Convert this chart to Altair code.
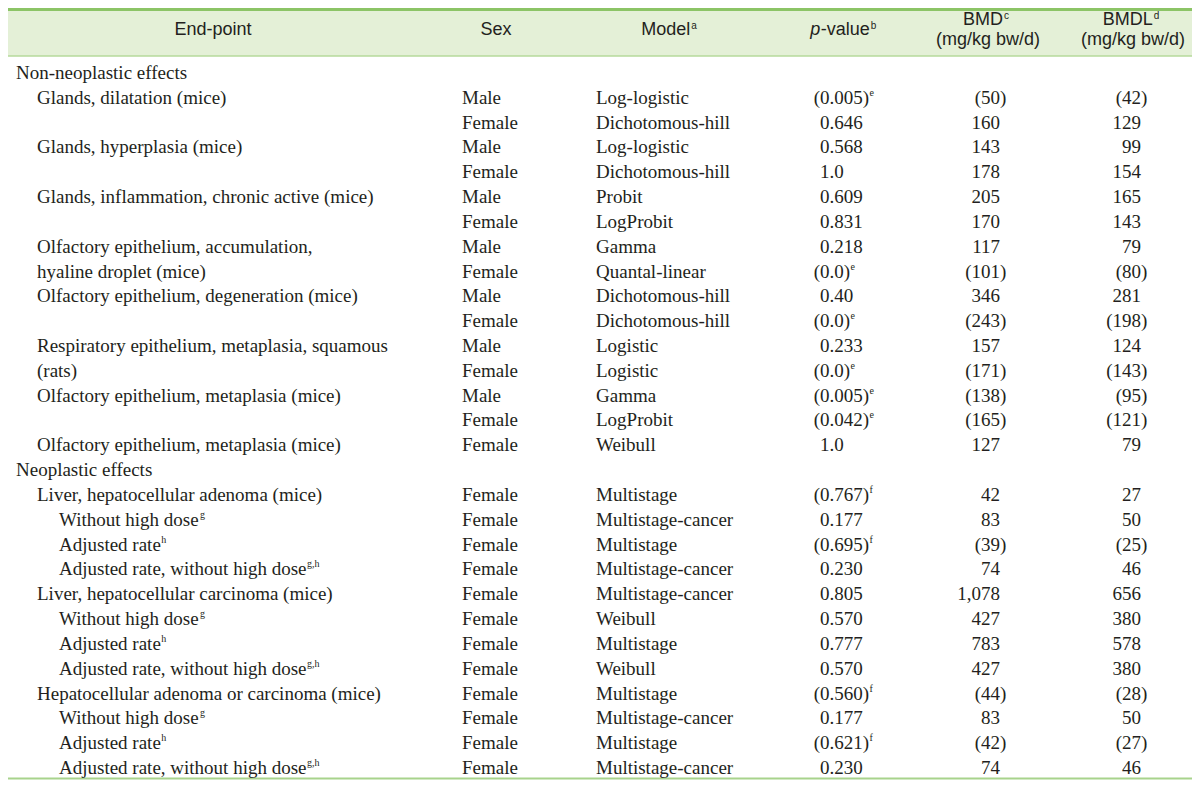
import altair as alt
import pandas as pd

# ---------------- data ----------------
endpoint = [
    "Non-neoplastic effects",
    "Glands, dilatation (mice)", "",
    "Glands, hyperplasia (mice)", "",
    "Glands, inflammation, chronic active (mice)", "",
    "Olfactory epithelium, accumulation,", "hyaline droplet (mice)",
    "Olfactory epithelium, degeneration (mice)", "",
    "Respiratory epithelium, metaplasia, squamous", "(rats)",
    "Olfactory epithelium, metaplasia (mice)", "",
    "Olfactory epithelium, metaplasia (mice)",
    "Neoplastic effects",
    "Liver, hepatocellular adenoma (mice)", "Without high dose", "Adjusted rate",
    "Adjusted rate, without high dose",
    "Liver, hepatocellular carcinoma (mice)", "Without high dose", "Adjusted rate",
    "Adjusted rate, without high dose",
    "Hepatocellular adenoma or carcinoma (mice)", "Without high dose", "Adjusted rate",
    "Adjusted rate, without high dose",
]
endpoint_level = [0, 1, 1, 1, 1, 1, 1, 1, 1, 1, 1, 1, 1, 1, 1, 1,
                  0, 1, 2, 2, 2, 1, 2, 2, 2, 1, 2, 2, 2]
endpoint_sup = ["", "", "", "", "", "", "", "", "", "", "", "", "", "", "", "",
                "", "", "g", "h", "g,h", "", "g", "h", "g,h", "", "g", "h", "g,h"]
sex = ["", "Male", "Female", "Male", "Female", "Male", "Female", "Male", "Female",
       "Male", "Female", "Male", "Female", "Male", "Female", "Female", "",
       "Female", "Female", "Female", "Female", "Female", "Female", "Female", "Female",
       "Female", "Female", "Female", "Female"]
model = ["", "Log-logistic", "Dichotomous-hill", "Log-logistic", "Dichotomous-hill",
         "Probit", "LogProbit", "Gamma", "Quantal-linear", "Dichotomous-hill",
         "Dichotomous-hill", "Logistic", "Logistic", "Gamma", "LogProbit", "Weibull", "",
         "Multistage", "Multistage-cancer", "Multistage", "Multistage-cancer",
         "Multistage-cancer", "Weibull", "Multistage", "Weibull",
         "Multistage", "Multistage-cancer", "Multistage", "Multistage-cancer"]
pvalue = ["", "(0.005)", "0.646", "0.568", "1.0", "0.609", "0.831", "0.218", "(0.0)",
          "0.40", "(0.0)", "0.233", "(0.0)", "(0.005)", "(0.042)", "1.0", "",
          "(0.767)", "0.177", "(0.695)", "0.230", "0.805", "0.570", "0.777", "0.570",
          "(0.560)", "0.177", "(0.621)", "0.230"]
pvalue_sup = ["", "e", "", "", "", "", "", "", "e", "", "e", "", "e", "e", "e", "", "",
              "f", "", "f", "", "", "", "", "", "f", "", "f", ""]
bmd = ["", "(50)", "160", "143", "178", "205", "170", "117", "(101)", "346", "(243)",
       "157", "(171)", "(138)", "(165)", "127", "",
       "42", "83", "(39)", "74", "1,078", "427", "783", "427", "(44)", "83", "(42)", "74"]
bmdl = ["", "(42)", "129", "99", "154", "165", "143", "79", "(80)", "281", "(198)",
        "124", "(143)", "(95)", "(121)", "79", "",
        "27", "50", "(25)", "46", "656", "380", "578", "380", "(28)", "50", "(27)", "46"]

headers = ["End-point", "Sex", "Model", "p", "-value", "BMD", "(mg/kg bw/d)",
           "BMDL", "(mg/kg bw/d)"]
header_sup = {"Model": "a", "-value": "b", "BMD": "c", "BMDL": "d"}

# ---------------- layout / style ----------------
INK = "#231f20"
SERIF = "Liberation Serif"
SANS = "Liberation Sans"
FS, SUPFS = 19, 10
HFS, HSUPFS = 18, 10
ROW0, ROWSTEP = 73, 24.82
LEVEL_X = [16, 37, 59]
SEX_X, MODEL_X, P_X, BMD_R, BMDL_R = 462, 596, 820, 1000, 1141

TIMES = {' ': 250, ',': 250, '-': 333, '.': 250, '(': 333, ')': 333}
TIMES.update({d: 500 for d in "0123456789"})
TIMES.update(dict(zip("ABCDEFGHIJKLMNOPQRSTUVWXYZ",
                      [722, 667, 667, 722, 611, 556, 722, 722, 333, 389, 722, 611, 889,
                       722, 722, 556, 722, 667, 556, 611, 722, 722, 944, 722, 722, 611])))
TIMES.update(dict(zip("abcdefghijklmnopqrstuvwxyz",
                      [444, 500, 444, 500, 444, 333, 500, 500, 278, 278, 500, 278, 778,
                       500, 500, 500, 500, 333, 389, 278, 500, 500, 722, 500, 500, 444])))
ARIAL = {' ': 278, '-': 333, '(': 333, ')': 333, '/': 278, 'B': 667, 'D': 722, 'E': 667,
         'L': 556, 'M': 833, 'S': 667, 'a': 556, 'b': 556, 'c': 500, 'd': 556, 'e': 556,
         'g': 556, 'i': 222, 'k': 500, 'l': 222, 'm': 833, 'n': 556, 'o': 556, 'p': 556,
         't': 278, 'u': 556, 'v': 500, 'w': 722, 'x': 500}


def tw(s, size, table=TIMES):
    return sum(table.get(c, 500) for c in s) * size / 1000.0


ys = [ROW0 + i * ROWSTEP for i in range(len(endpoint))]

left_rows, right_rows, sup_rows = [], [], []
for i, y in enumerate(ys):
    if endpoint[i]:
        x0 = LEVEL_X[endpoint_level[i]]
        left_rows.append(dict(x=x0, y=y, t=endpoint[i]))
        if endpoint_sup[i]:
            sup_rows.append(dict(x=x0 + tw(endpoint[i], FS) + 0.5, y=y - 5, t=endpoint_sup[i]))
    if sex[i]:
        left_rows.append(dict(x=SEX_X, y=y, t=sex[i]))
    if model[i]:
        left_rows.append(dict(x=MODEL_X, y=y, t=model[i]))
    if pvalue[i]:
        px = P_X - (tw("(", FS) if pvalue[i].startswith("(") else 0)
        left_rows.append(dict(x=px, y=y, t=pvalue[i]))
        if pvalue_sup[i]:
            sup_rows.append(dict(x=px + tw(pvalue[i], FS) + 0.5, y=y - 5, t=pvalue_sup[i]))
    for vals, r in ((bmd, BMD_R), (bmdl, BMDL_R)):
        if vals[i]:
            rx = r + (tw(")", FS) if vals[i].endswith(")") else 0)
            right_rows.append(dict(x=rx, y=y, t=vals[i]))

# header pieces (left-aligned, positions computed from centres)
HC = {"End-point": (213, 30), "Sex": (496, 30), "Model": (669, 30), "pval": (843, 30),
      "BMD": (986, 20), "BMDL": (1131, 20)}
h_rows, h_it, h_sup = [], [], []


def place(label, cx, y):
    sup = header_sup.get(label, "")
    w = tw(label, HFS, ARIAL) + (tw(sup, HSUPFS, ARIAL) + 1 if sup else 0)
    x0 = cx - w / 2
    h_rows.append(dict(x=x0, y=y, t=label))
    if sup:
        h_sup.append(dict(x=x0 + tw(label, HFS, ARIAL) + 1, y=y - 4, t=sup))


place(headers[0], *HC["End-point"])
place(headers[1], *HC["Sex"])
place(headers[2], *HC["Model"])
# p-value: italic p + "-value" + sup b
pw = tw("p", HFS, ARIAL)
vw = tw("-value", HFS, ARIAL)
bw = tw("b", HSUPFS, ARIAL) + 1
px0 = HC["pval"][0] - (pw + vw + bw) / 2
h_it.append(dict(x=px0, y=HC["pval"][1], t=headers[3]))
h_rows.append(dict(x=px0 + pw + 0.5, y=HC["pval"][1], t=headers[4]))
h_sup.append(dict(x=px0 + pw + vw + 1.5, y=HC["pval"][1] - 4, t=header_sup["-value"]))
place(headers[5], *HC["BMD"])
place(headers[6], HC["BMD"][0] + 2, 40)
place(headers[7], *HC["BMDL"])
place(headers[8], HC["BMDL"][0] + 2, 40)

XS = alt.Scale(domain=[8, 1192], range=[0, 1184])
YS = alt.Scale(domain=[8, 780], range=[0, 772])
X = lambda f: alt.X(f, type="quantitative", scale=XS, axis=None)
Y = lambda f: alt.Y(f, type="quantitative", scale=YS, axis=None)

band = alt.Chart(pd.DataFrame([dict(x=0, x2=1200, y=8, y2=56)])).mark_rect(
    color="#e4f0d7").encode(x=X("x"), x2="x2", y=Y("y"), y2="y2")
rules = pd.DataFrame([
    dict(x=0, x2=1200, y=9.5, c="#8cc466", w=3),
    dict(x=0, x2=1200, y=56, c="#b6da9b", w=1.5),
    dict(x=0, x2=1200, y=778.5, c="#a8d38c", w=2),
])
rule_layers = [
    alt.Chart(rules.iloc[[k]]).mark_rule(color=rules.c[k], strokeWidth=float(rules.w[k])).encode(
        x=X("x"), x2="x2", y=Y("y"))
    for k in range(len(rules))
]


def txt(rows, **kw):
    return alt.Chart(pd.DataFrame(rows)).mark_text(baseline="middle", color=INK, **kw).encode(
        x=X("x"), y=Y("y"), text="t:N")


layers = [band] + rule_layers + [
    txt(left_rows, align="left", font=SERIF, fontSize=FS),
    txt(right_rows, align="right", font=SERIF, fontSize=FS),
    txt(sup_rows, align="left", font=SERIF, fontSize=SUPFS),
    txt(h_rows, align="left", font=SANS, fontSize=HFS),
    txt(h_it, align="left", font=SANS, fontSize=HFS, fontStyle="italic"),
    txt(h_sup, align="left", font=SANS, fontSize=HSUPFS),
]

chart = alt.layer(*layers).properties(
    width=1184, height=772, padding=0, autosize="none"
).configure_view(stroke=None)

chart.save("out.html", embed_options={"renderer": "svg", "actions": False})
